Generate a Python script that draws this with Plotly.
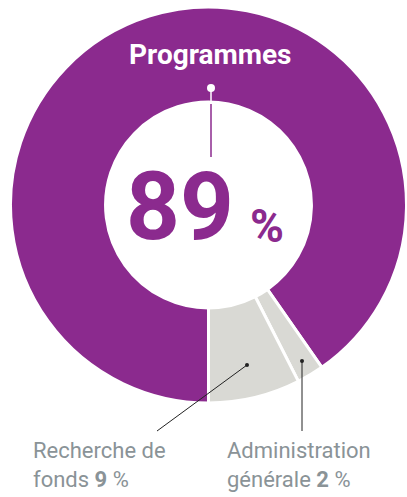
import plotly.graph_objects as go

W, H = 407, 497

# Slice sizes as drawn in the reference (labels state 89 / 9 / 2 %)
categories = ["Programmes", "Administration générale", "Recherche de fonds"]
values = [90.3, 2.2, 7.5]
label_pcts = [89, 2, 9]
colors = ["#8B2A8E", "#D9D9D4", "#D9D9D4"]

cx, cy, R = 208.5, 205, 198

fig = go.Figure()
fig.add_trace(go.Pie(
    labels=categories, values=values, sort=False,
    direction="clockwise", rotation=180, hole=0.52,
    marker=dict(colors=colors, line=dict(color="white", width=3)),
    textinfo="none", hoverinfo="label", showlegend=False,
    domain=dict(x=[(cx - R) / W, (cx + R) / W],
                y=[(H - cy - R) / H, (H - cy + R) / H]),
))

def px(x):
    return x / W

def py(y):
    return 1 - y / H

purple = "#8B2A8E"
grey_txt = "#8A9397"
shapes = [
    dict(type="line", xref="paper", yref="paper", x0=px(211), x1=px(211), y0=py(88), y1=py(104),
         line=dict(color="white", width=1.5)),
    dict(type="line", xref="paper", yref="paper", x0=px(211), x1=px(211), y0=py(104), y1=py(157),
         line=dict(color=purple, width=1.5)),
    dict(type="circle", xref="paper", yref="paper", x0=px(207), x1=px(215), y0=py(84), y1=py(92),
         fillcolor="white", line=dict(width=0)),
    dict(type="line", xref="paper", yref="paper", x0=px(247), x1=px(157), y0=py(365), y1=py(431),
         line=dict(color="#222222", width=1)),
    dict(type="circle", xref="paper", yref="paper", x0=px(245), x1=px(249), y0=py(363), y1=py(367),
         fillcolor="#222222", line=dict(width=0)),
    dict(type="line", xref="paper", yref="paper", x0=px(302), x1=px(302), y0=py(361), y1=py(431),
         line=dict(color="#222222", width=1)),
    dict(type="circle", xref="paper", yref="paper", x0=px(300), x1=px(304), y0=py(359), y1=py(363),
         fillcolor="#222222", line=dict(width=0)),
]

font_fam = "Roboto"
annotations = [
    dict(text="<b>" + categories[0] + "</b>", x=px(210), y=py(55), xref="paper", yref="paper",
         showarrow=False, xanchor="center", yanchor="middle",
         font=dict(family=font_fam, size=28, color="white")),
    dict(text="<b>%d</b>" % label_pcts[0], x=px(236), y=py(207), xref="paper", yref="paper",
         showarrow=False, xanchor="right", yanchor="middle",
         font=dict(family=font_fam, size=94, color=purple)),
    dict(text="<b>%</b>", x=px(248), y=py(226), xref="paper", yref="paper",
         showarrow=False, xanchor="left", yanchor="middle",
         font=dict(family=font_fam, size=46, color=purple)),
    dict(text="Recherche de<br>fonds <b>%d</b> %%" % label_pcts[2], x=px(31), y=py(436),
         xref="paper", yref="paper",
         showarrow=False, xanchor="left", yanchor="top", align="left",
         font=dict(family=font_fam, size=22, color=grey_txt)),
    dict(text="Administration<br>générale <b>%d</b> %%" % label_pcts[1], x=px(225), y=py(436),
         xref="paper", yref="paper",
         showarrow=False, xanchor="left", yanchor="top", align="left",
         font=dict(family=font_fam, size=22, color=grey_txt)),
]

fig.update_layout(width=W, height=H, margin=dict(l=0, r=0, t=0, b=0),
                  paper_bgcolor="white", plot_bgcolor="white",
                  shapes=shapes, annotations=annotations)
fig.write_html("out.html", config={"displayModeBar": False},
               post_script="document.body.style.margin='0';")
